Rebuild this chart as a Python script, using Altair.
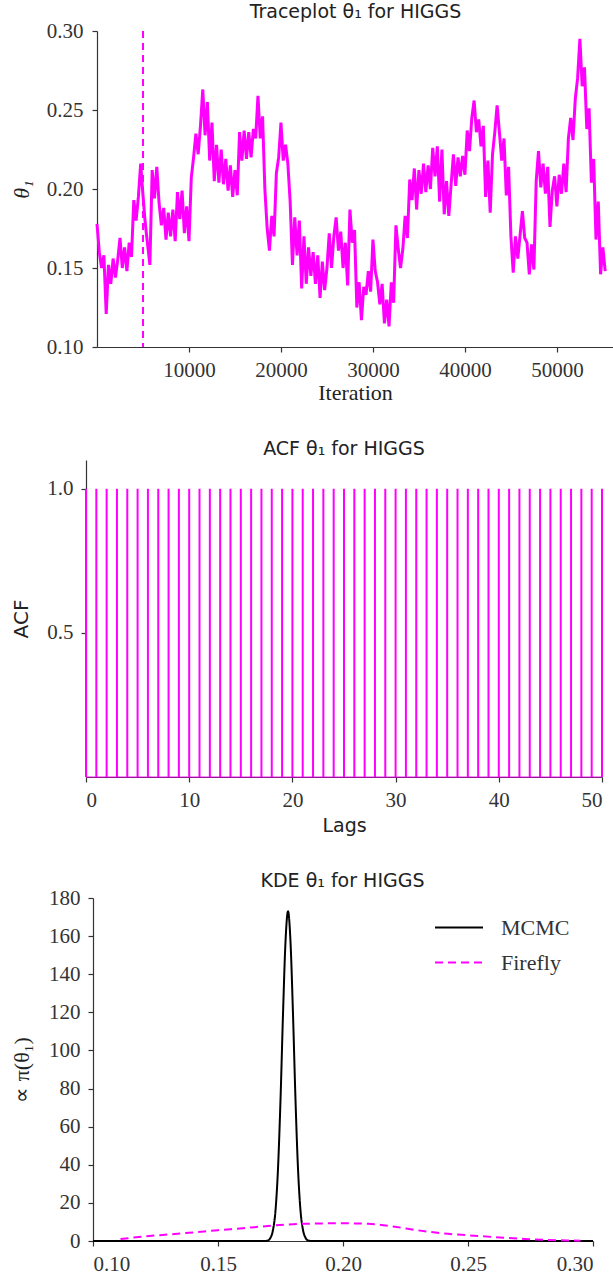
import altair as alt
import pandas as pd

# ---------------- data ----------------
trace_theta = [
    0.178, 0.160, 0.150, 0.158, 0.121, 0.152, 0.140, 0.156, 0.144, 0.155,
    0.169, 0.150, 0.163, 0.148, 0.166, 0.157, 0.193, 0.180, 0.195, 0.216,
    0.196, 0.178, 0.165, 0.152, 0.212, 0.194, 0.214, 0.191, 0.177, 0.188,
    0.168, 0.185, 0.170, 0.187, 0.167, 0.198, 0.181, 0.199, 0.172, 0.189,
    0.167, 0.207, 0.220, 0.235, 0.222, 0.240, 0.263, 0.234, 0.255, 0.218,
    0.242, 0.205, 0.228, 0.204, 0.225, 0.203, 0.219, 0.199, 0.215, 0.195,
    0.212, 0.196, 0.236, 0.218, 0.237, 0.219, 0.236, 0.220, 0.238, 0.232,
    0.259, 0.232, 0.246, 0.200, 0.175, 0.161, 0.183, 0.170, 0.210, 0.220,
    0.242, 0.218, 0.228, 0.216, 0.192, 0.152, 0.182, 0.158, 0.180, 0.137,
    0.170, 0.140, 0.163, 0.145, 0.160, 0.140, 0.158, 0.131, 0.154, 0.136,
    0.150, 0.172, 0.150, 0.170, 0.182, 0.161, 0.173, 0.150, 0.166, 0.139,
    0.187, 0.166, 0.174, 0.125, 0.141, 0.117, 0.138, 0.133, 0.148, 0.135,
    0.168, 0.148, 0.141, 0.127, 0.140, 0.115, 0.130, 0.113, 0.141, 0.128,
    0.177, 0.162, 0.150, 0.162, 0.183, 0.169, 0.206, 0.193, 0.213, 0.187,
    0.212, 0.197, 0.216, 0.198, 0.215, 0.200, 0.226, 0.208, 0.227, 0.192,
    0.225, 0.184, 0.205, 0.183, 0.203, 0.222, 0.202, 0.220, 0.208, 0.221,
    0.209, 0.237, 0.224, 0.245, 0.256, 0.236, 0.244, 0.227, 0.240, 0.195,
    0.218, 0.185, 0.222, 0.236, 0.253, 0.236, 0.218, 0.232, 0.196, 0.214,
    0.170, 0.147, 0.170, 0.156, 0.171, 0.186, 0.169, 0.166, 0.146, 0.165,
    0.149, 0.205, 0.224, 0.201, 0.216, 0.197, 0.214, 0.176, 0.199, 0.208,
    0.189, 0.209, 0.197, 0.216, 0.198, 0.232, 0.245, 0.231, 0.257, 0.270,
    0.295, 0.265, 0.277, 0.238, 0.251, 0.204, 0.219, 0.168, 0.192, 0.146,
    0.163, 0.148,
]
trace_iter = list(range(0, 250 * len(trace_theta), 250))
burn_in = [5000]

acf_lags = list(range(0, 51))
acf_values = [1.0] * 51

mcmc_x = [0.100, 0.165, 0.169, 0.170, 0.171, 0.172, 0.173, 0.174, 0.175, 0.176,
          0.177, 0.178, 0.179, 0.180, 0.181, 0.182, 0.183, 0.184, 0.185, 0.186,
          0.187, 0.190, 0.300]
mcmc_y = [0.0, 0.0, 0.05, 0.3, 1.7, 5.8, 16.0, 38.0, 74.0, 119.0,
          157.0, 173.0, 157.0, 119.0, 74.0, 38.0, 16.0, 5.8, 1.7, 0.3,
          0.05, 0.0, 0.0]

firefly_x = [0.111, 0.120, 0.130, 0.140, 0.150, 0.160, 0.170, 0.180, 0.190, 0.200,
             0.210, 0.220, 0.230, 0.240, 0.250, 0.260, 0.270, 0.280, 0.290, 0.295]
firefly_y = [1.0, 2.3, 3.4, 4.5, 5.7, 6.7, 7.9, 8.8, 9.2, 9.3,
             9.0, 7.6, 5.6, 4.0, 3.0, 2.1, 1.3, 0.6, 0.3, 0.15]

# ---------------- styling ----------------
MAG = "#ff00ff"
SERIF = "Liberation Serif"
SANS = "DejaVu Sans"
AXC = "#333333"
TXT = "#222222"

def axis_common(**kw):
    base = dict(domainColor=AXC, tickColor=AXC, labelColor=AXC, titleColor=TXT,
                labelFont=SERIF, labelFontSize=21, tickSize=5, grid=False,
                titleFontWeight="normal")
    base.update(kw)
    return alt.Axis(**base)

def panel_title(text, offset, dx):
    return alt.TitleParams(text, font=SANS, fontSize=19, fontWeight="normal",
                           color=TXT, offset=offset, dx=dx)

# ---------------- panel 1: traceplot ----------------
df_trace = pd.DataFrame({"iter": trace_iter, "theta": trace_theta})
df_burn = pd.DataFrame({"iter": burn_in})

x1 = alt.X("iter:Q", scale=alt.Scale(domain=[0, 56100], nice=False, zero=False, range=[11, 527]),
           axis=axis_common(title="Iteration", titleFont=SERIF, titleFontSize=22,
                            values=[10000, 20000, 30000, 40000, 50000], format="d",
                            labelPadding=7, titlePadding=2))
y1 = alt.Y("theta:Q", scale=alt.Scale(domain=[0.10, 0.30], nice=False, zero=False),
           axis=axis_common(title="θ₁", titleFont=SERIF, titleFontSize=22,
                            titleFontStyle="italic", offset=-11,
                            values=[0.10, 0.15, 0.20, 0.25, 0.30], format=".2f",
                            labelPadding=9, minExtent=53, maxExtent=53, titlePadding=11))

trace_line = alt.Chart(df_trace).mark_line(color=MAG, strokeWidth=3).encode(x=x1, y=y1)
burn_rule = alt.Chart(df_burn).mark_rule(color=MAG, strokeWidth=2, strokeDash=[7, 5]).encode(
    x=alt.X("iter:Q")
)
p1 = alt.layer(trace_line, burn_rule).properties(
    width=527, height=316, title=panel_title("Traceplot θ₁ for HIGGS", -2, 6),
)

# ---------------- panel 2: ACF ----------------
df_acf = pd.DataFrame({"lag": acf_lags, "acf": acf_values, "zero": [0.0] * 51})
x2 = alt.X("lag:Q", scale=alt.Scale(domain=[0, 50], nice=False),
           axis=axis_common(title="Lags", titleFont=SANS, titleFontSize=19,
                            values=[0, 10, 20, 30, 40, 50], labelPadding=7, titlePadding=6))
y2 = alt.Y("acf:Q", scale=alt.Scale(domain=[0, 1.1], nice=False),
           axis=axis_common(title="ACF", titleFont=SANS, titleFontSize=20,
                            values=[0.5, 1.0], format=".1f", labelPadding=8,
                            minExtent=42, maxExtent=42, titlePadding=13))
stems_top = alt.Chart(df_acf).mark_point(opacity=0).encode(x=x2, y=y2)
stems = alt.Chart(df_acf).mark_rule(color=MAG, strokeWidth=2).encode(
    x=alt.X("lag:Q"), y=alt.Y("zero:Q"), y2=alt.Y2("acf:Q")
)
base_line = alt.Chart(df_acf).mark_line(color=MAG, strokeWidth=1.5, opacity=0.6).encode(
    x=alt.X("lag:Q"), y=alt.Y("zero:Q")
)
p2 = alt.layer(stems_top, stems, base_line).properties(
    width=516, height=317, title=panel_title("ACF θ₁ for HIGGS", 1, 0),
)

# ---------------- panel 3: KDE ----------------
df_kde = pd.concat([
    pd.DataFrame({"x": mcmc_x, "y": mcmc_y, "method": "MCMC"}),
    pd.DataFrame({"x": firefly_x, "y": firefly_y, "method": "Firefly"}),
])
x3 = alt.X("x:Q", scale=alt.Scale(domain=[0.10, 0.30], nice=False, zero=False, range=[7, 507]),
           axis=axis_common(title=None, values=[0.10, 0.15, 0.20, 0.25, 0.30], format=".2f",
                            labelPadding=7))
y3 = alt.Y("y:Q", scale=alt.Scale(domain=[0, 180], nice=False),
           axis=axis_common(title="∝ π(θ₁)", titleFont=SERIF, titleFontSize=22, offset=-7,
                            values=list(range(0, 181, 20)), labelPadding=8,
                            minExtent=47, maxExtent=47, titlePadding=13))
leg = dict(title=None, orient="none", legendX=348, legendY=12,
           symbolType="stroke", symbolSize=2304, symbolStrokeWidth=2, clipHeight=35,
           labelFont=SERIF, labelFontSize=22, labelColor=AXC, labelOffset=17, rowPadding=0)
kde = alt.Chart(df_kde).mark_line(strokeWidth=2, interpolate="monotone").encode(
    x=x3, y=y3,
    color=alt.Color("method:N",
                    scale=alt.Scale(domain=["MCMC", "Firefly"], range=["black", MAG]),
                    legend=alt.Legend(**leg)),
    strokeDash=alt.StrokeDash("method:N",
                              scale=alt.Scale(domain=["MCMC", "Firefly"],
                                              range=[[1, 0], [8, 5]]),
                              legend=alt.Legend(**leg)),
    order=alt.Order("x:Q"),
)
p3 = kde.properties(width=507, height=343, title=panel_title("KDE θ₁ for HIGGS", -4, 3))

chart = alt.vconcat(p1, p2, p3, spacing=37).properties(
    padding={"left": 10, "top": 3, "right": 0, "bottom": 0},
).resolve_legend(color="independent", strokeDash="independent").configure_view(
    stroke=None
).configure_axis(domainWidth=1.2, tickWidth=1.2)

chart.save("out.html", embed_options={"renderer": "svg", "actions": False})
